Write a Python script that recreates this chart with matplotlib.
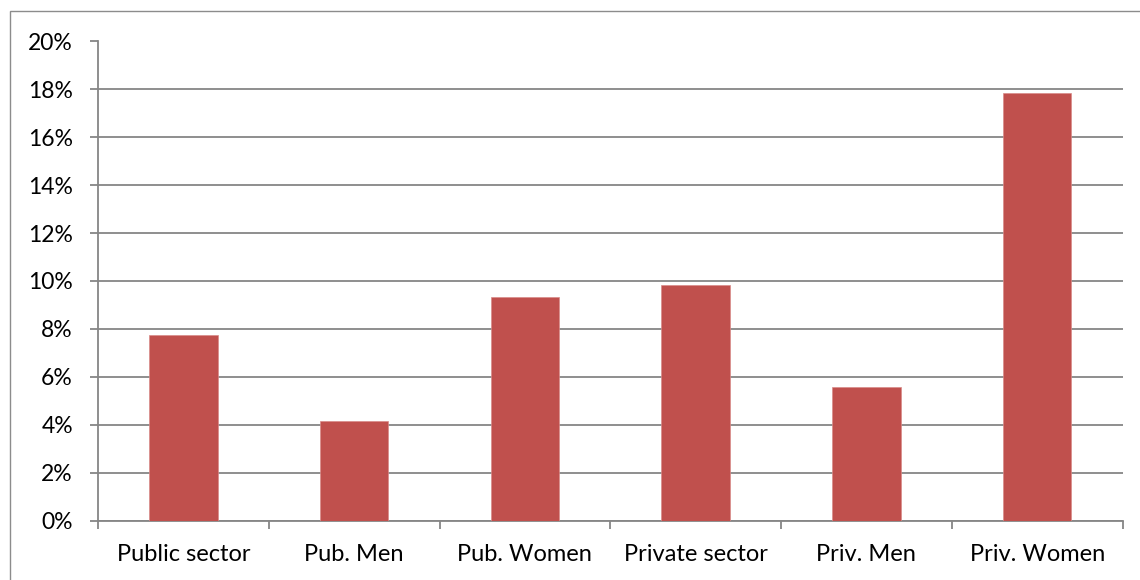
import matplotlib
matplotlib.use("Agg")
import matplotlib.pyplot as plt
from matplotlib.ticker import FixedLocator, PercentFormatter
from matplotlib.patches import Rectangle

categories = ["Public sector", "Pub. Men", "Pub. Women", "Private sector", "Priv. Men", "Priv. Women"]
values = [7.74, 4.15, 9.32, 9.83, 5.58, 17.87]
yticks = [0, 2, 4, 6, 8, 10, 12, 14, 16, 18, 20]

W, H = 1140, 580
fig = plt.figure(figsize=(W / 100, H / 100), dpi=100)
plt.rcParams['font.family'] = ['Lato', 'DejaVu Sans']

# outer frame
fig.patches.append(Rectangle((10 / W, -0.1), 1.2, (H - 11) / H + 0.1, transform=fig.transFigure,
                             fill=False, edgecolor='#8c8c8c', linewidth=1.0))

ax = fig.add_axes([98 / W, 1 - 520.5 / H, (1122.5 - 98) / W, (520.5 - 41.5) / H])
grid_color = '#868686'
x = list(range(len(categories)))
ax.bar(x, values, width=0.4, color='#C0504D', edgecolor='#d98b89', linewidth=0.5, zorder=3)

ax.set_xlim(-0.5, len(categories) - 0.5)
ax.set_ylim(0, 20)
ax.set_yticks(yticks)
ax.yaxis.set_major_formatter(PercentFormatter(decimals=0))
ax.yaxis.grid(True, color=grid_color, linewidth=1.3, zorder=0)

ax.set_xticks(x)
ax.set_xticklabels(categories)
ax.xaxis.set_minor_locator(FixedLocator([i - 0.5 for i in range(len(categories) + 1)]))
ax.tick_params(axis='x', which='major', length=0, pad=17, labelsize=17, labelcolor='black')
ax.tick_params(axis='x', which='minor', length=6, width=1.3, color=grid_color, direction='out')
ax.tick_params(axis='y', which='major', length=6, width=1.3, color=grid_color, pad=12,
               labelsize=16.5, labelcolor='black')

for s in ['top', 'right']:
    ax.spines[s].set_visible(False)
for s in ['left', 'bottom']:
    ax.spines[s].set_color(grid_color)
    ax.spines[s].set_linewidth(1.3)

fig.savefig("out.png", dpi=100)
